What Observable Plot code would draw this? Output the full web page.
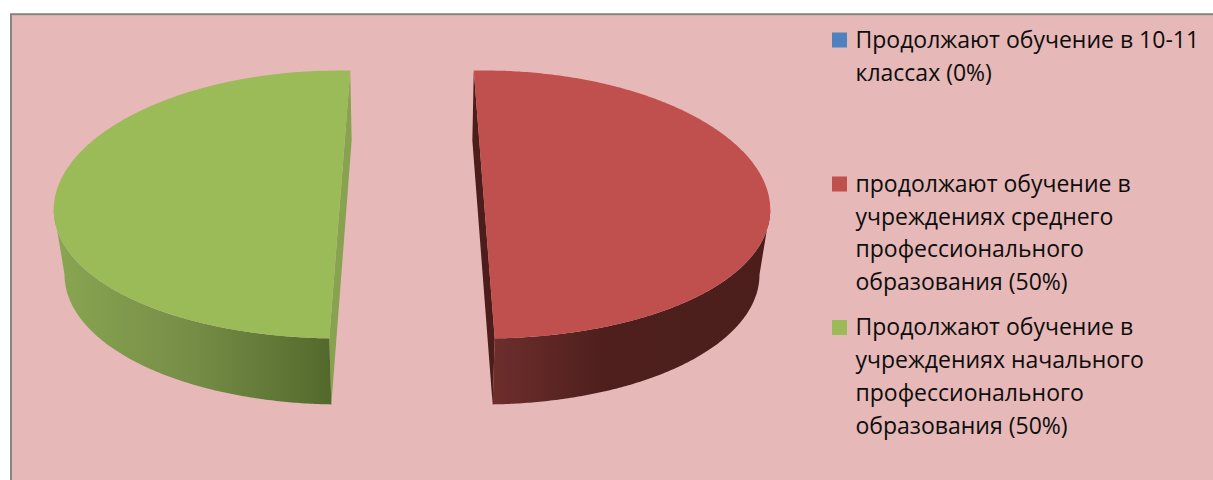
<!DOCTYPE html>
<html lang="ru">
<head>
<meta charset="utf-8">
<script src="https://cdn.jsdelivr.net/npm/d3@7"></script>
<script src="https://cdn.jsdelivr.net/npm/@observablehq/plot@0.6"></script>
<style>
html,body{margin:0;padding:0;background:#fff;overflow:hidden}
svg{display:block}
</style>
</head>
<body>
<div id="chart"></div>
<script>
// Data
const categories = [
  "Продолжают обучение в 10-11 классах",
  "продолжают обучение в учреждениях среднего профессионального образования",
  "Продолжают обучение в учреждениях начального профессионального образования"
];
const shares = [0, 50, 50];
const legendLines = [
  ["Продолжают обучение в 10-11", "классах (0%)"],
  ["продолжают обучение в", "учреждениях среднего", "профессионального", "образования (50%)"],
  ["Продолжают обучение в", "учреждениях начального", "профессионального", "образования (50%)"]
];
const topColors = ["#4f81bd", "#c0504d", "#9bbb59"];
const sideGradients = [
  null,
  [["0%", "#6e2e2c"], ["40%", "#4e1f1d"], ["100%", "#4b1e1c"]],
  [["0%", "#89a651"], ["50%", "#768d47"], ["100%", "#53692c"]]
];
const cutColors = [null, "#4d1d1b", "#87a34f"];

// Layout (pixels, identical to the scale domains)
const W = 1213, H = 480;
const pieCx = 411.5;
const topDisk = {cy: 204, rx: 286, ry: 134, explode: 72.25, sag: 5};
const baseDisk = {cy: 272, rx: 277, ry: 132, explode: 70.5, sag: 2};
const tilt = 2.1 * Math.PI / 180;
const legend = {swatchX: 832, swatchSize: 15, textX: 855, fontSize: 23, lineGap: 32.8,
  firstLineY: [40, 184, 327.5]};

const pieArcs = d3.pie().sort(null).startAngle(0).endAngle(2 * Math.PI)(shares);

function rimPoint(disk, side, angle) {
  const cx = pieCx + side * disk.explode;
  const s = Math.sin(angle);
  return {x: cx + disk.rx * s, y: disk.cy - disk.ry * Math.cos(angle) + disk.sag * s * s};
}
function angles(a0, a1, n = 160) {
  return d3.range(n + 1).map(i => a0 + (a1 - a0) * i / n);
}

const marks = [];
// Gradient defs
marks.push(() => {
  const defs = d3.create("svg:defs");
  sideGradients.forEach((stops, i) => {
    if (!stops) return;
    const g = defs.append("linearGradient").attr("id", "side" + i);
    stops.forEach(([o, c]) => g.append("stop").attr("offset", o).attr("stop-color", c));
  });
  return defs.node();
});
// Background panel with only the visible left/top edges inside the frame
marks.push(Plot.rect([{}], {x1: () => 11, x2: () => W + 5, y1: () => 14.2, y2: () => H + 5,
  fill: "#e6b8b7", stroke: "#868686", strokeWidth: 2}));

pieArcs.forEach((arc, i) => {
  if (arc.value <= 0) return;
  const mid = (arc.startAngle + arc.endAngle) / 2;
  const side = mid < Math.PI ? 1 : -1;
  const a0 = arc.startAngle - side * tilt;
  const a1 = arc.endAngle - side * tilt;
  const style = {x: "x", y: "y", stroke: "none", curve: "linear"};

  // Cut face: flat rectangle along the diameter of the slice
  const backAngle = side > 0 ? a0 : a1;
  const frontAngle = side > 0 ? a1 : a0;
  const cut = [rimPoint(topDisk, side, backAngle), rimPoint(topDisk, side, frontAngle),
               rimPoint(baseDisk, side, frontAngle), rimPoint(baseDisk, side, backAngle)];
  marks.push(Plot.line(cut, {...style, fill: cutColors[i]}));

  // Outer wall from the front of the cut to the silhouette
  const extreme = side > 0 ? Math.PI / 2 : 3 * Math.PI / 2;
  const wallAngles = angles(frontAngle, extreme);
  const wall = [...wallAngles.map(a => rimPoint(topDisk, side, a)),
                ...wallAngles.slice().reverse().map(a => rimPoint(baseDisk, side, a))];
  marks.push(Plot.line(wall, {...style, fill: `url(#side${i})`}));

  // Top surface
  const top = angles(a0, a1, 320).map(a => rimPoint(topDisk, side, a));
  marks.push(Plot.line(top, {...style, fill: topColors[i]}));
});

// Legend
const swatches = categories.map((c, i) => ({c, i, y: legend.firstLineY[i]}));
marks.push(Plot.rect(swatches, {
  x1: () => legend.swatchX, x2: () => legend.swatchX + legend.swatchSize,
  y1: d => d.y - legend.swatchSize / 2, y2: d => d.y + legend.swatchSize / 2,
  fill: d => topColors[d.i]
}));
const legendRows = legendLines.flatMap((lines, i) =>
  lines.map((text, j) => ({text, y: legend.firstLineY[i] + j * legend.lineGap})));
marks.push(Plot.text(legendRows, {
  x: () => legend.textX, y: "y", text: "text", textAnchor: "start", lineAnchor: "middle",
  fill: "#0d0d0d", fontSize: legend.fontSize
}));

const plot = Plot.plot({
  width: W, height: H, margin: 0,
  style: {background: "#fff", fontFamily: "'Open Sans', sans-serif"},
  x: {domain: [0, W], range: [0, W], axis: null},
  y: {domain: [0, H], range: [0, H], axis: null},
  color: {type: "identity"},
  marks
});
document.getElementById("chart").append(plot);
</script>
</body>
</html>
